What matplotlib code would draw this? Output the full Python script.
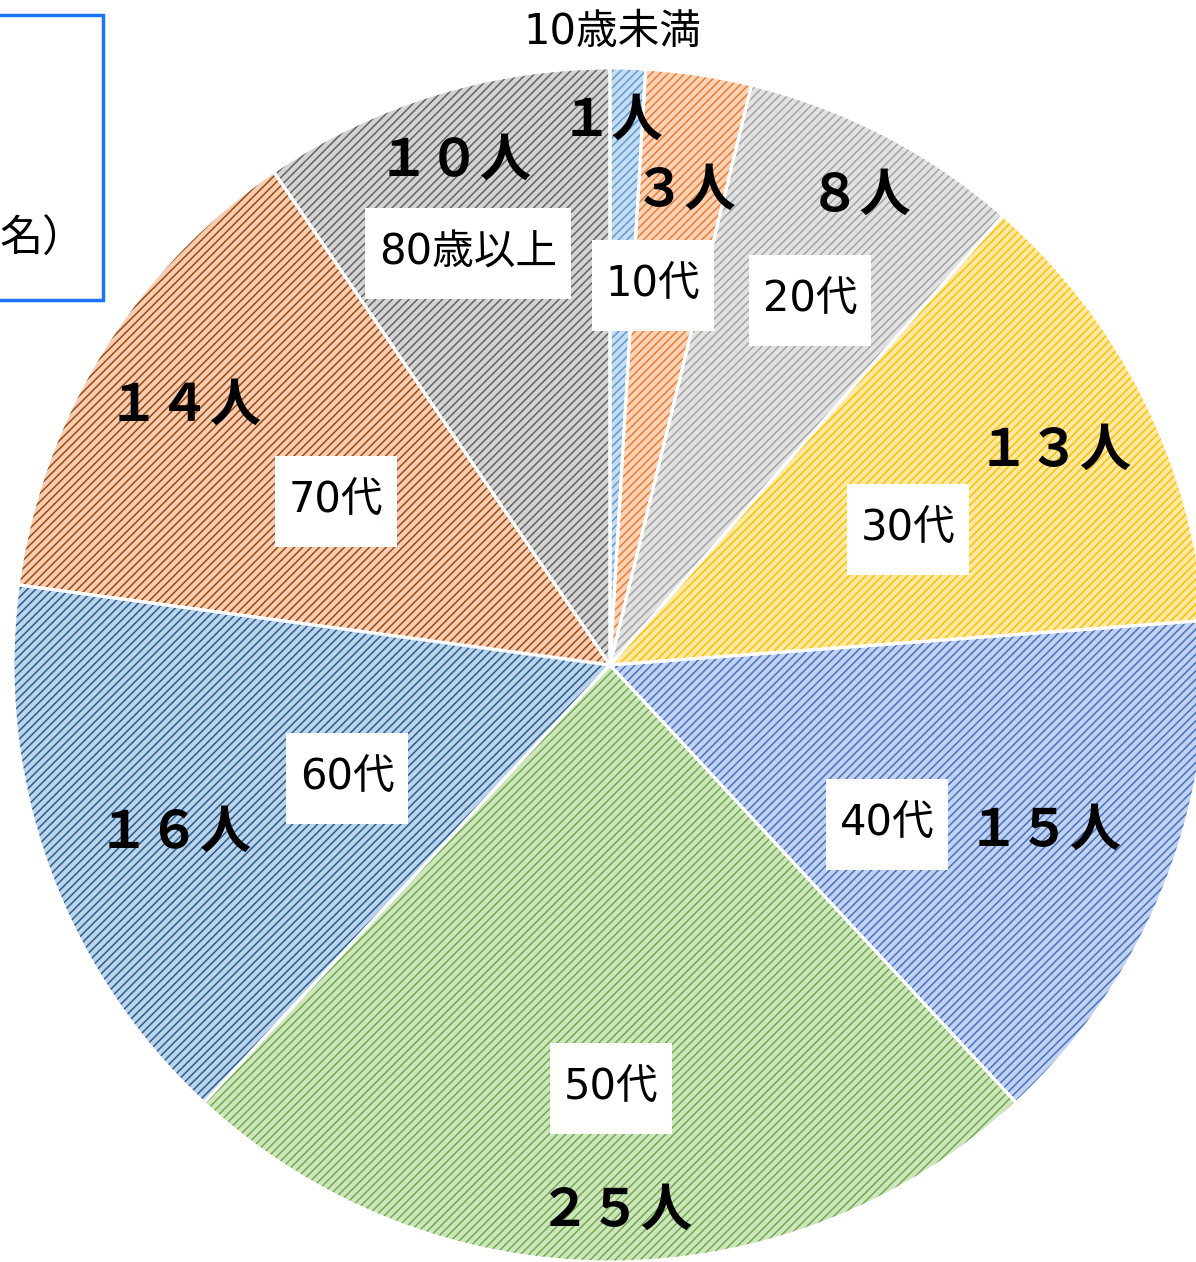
import matplotlib.pyplot as plt

plt.rcParams['font.family'] = ['DejaVu Sans', 'Noto Sans CJK JP']
plt.rcParams['hatch.linewidth'] = 1.1

# データ
categories = ['10歳未満', '10代', '20代', '30代', '40代', '50代', '60代', '70代', '80歳以上']
counts = [1, 3, 8, 13, 15, 25, 16, 14, 10]
count_labels = ['１人', '３人', '８人', '１３人', '１５人', '２５人', '１６人', '１４人', '１０人']

hatch_colors = ['#5B9BD5', '#ED7D31', '#A5A5A5', '#FFC000', '#4472C4',
                '#70AD47', '#255E91', '#9E480E', '#636363']
fill_colors = ['#C6DCF0', '#FAD3B8', '#E2E2E2', '#FFE9A6', '#C3D2EE',
               '#CFE5C0', '#BDD3EA', '#F5CDB3', '#D3D3D3']

W, H = 1196, 1262
cx, cy, r = 610, H - 665, 597

fig = plt.figure(figsize=(W / 100, H / 100), dpi=100)
ax = fig.add_axes([0, 0, 1, 1])

# 塗り＋斜線
wedges, _ = ax.pie(counts, colors=fill_colors, startangle=90, counterclock=False,
                   center=(cx, cy), radius=r, wedgeprops=dict(linewidth=0))
for w, hc in zip(wedges, hatch_colors):
    w.set_edgecolor(hc)
    w.set_hatch('////')
    w.set_linewidth(0)

# 白い境界線
ax.pie(counts, colors=['none'] * len(counts), startangle=90, counterclock=False,
       center=(cx, cy), radius=r,
       wedgeprops=dict(linewidth=2.2, edgecolor='white', fill=False))

ax.set_xlim(0, W)
ax.set_ylim(0, H)
ax.set_aspect('equal')
ax.axis('off')

# ラベル位置 (ピクセル)
cat_pos = [(612, 32), (653, 285), (810, 300), (908, 529), (887, 824),
           (611, 1088), (347, 778), (336, 501), (468, 253)]
cnt_pos = [(612, 120), (685, 190), (860, 195), (1055, 450), (1045, 830),
           (615, 1210), (175, 832), (185, 405), (455, 160)]

cat_texts = []
for i, name in enumerate(categories):
    x, y = cat_pos[i]
    t = ax.text(x, H - y, name, fontsize=30, ha='center', va='center', zorder=5)
    if i > 0:
        cat_texts.append(t)

for i, lab in enumerate(count_labels):
    x, y = cnt_pos[i]
    ax.text(x, H - y, lab, fontsize=37, fontweight='bold', ha='center', va='center',
            family=['Noto Sans CJK JP', 'DejaVu Sans'], zorder=5)

# 白いラベル枠（文字の大きさから作る）
fig.canvas.draw()
renderer = fig.canvas.get_renderer()
for t in cat_texts:
    bb = t.get_window_extent(renderer)
    xc, yc = t.get_position()
    bw = bb.width + 28
    bh = 91
    ax.add_patch(plt.Rectangle((xc - bw / 2, yc - bh / 2), bw, bh,
                               facecolor='white', edgecolor='none', zorder=4))

# 左上の枠
ax.add_patch(plt.Rectangle((-20, H - 300), 123, 285, fill=False,
                           edgecolor='#1A75FF', linewidth=2.5))
ax.text(0, H - 240, '名）', fontsize=31, ha='left', va='center',
        family=['Noto Sans CJK JP', 'DejaVu Sans'])

fig.savefig('out.png', dpi=100)
